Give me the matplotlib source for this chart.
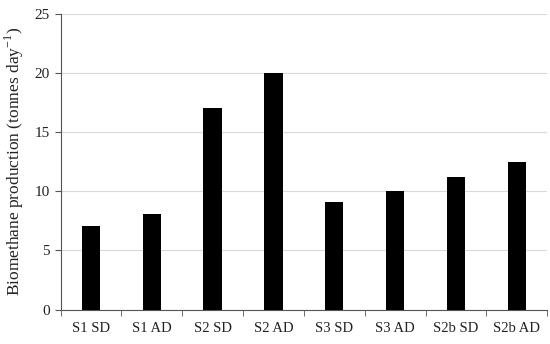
import matplotlib
matplotlib.use("Agg")
import matplotlib.pyplot as plt
import numpy as np

categories = ["S1 SD", "S1 AD", "S2 SD", "S2 AD", "S3 SD", "S3 AD", "S2b SD", "S2b AD"]
production = [7.1, 8.1, 17.0, 20.0, 9.1, 10.0, 11.2, 12.5]

plt.rcParams["font.family"] = ["Liberation Serif", "DejaVu Serif"]
plt.rcParams["mathtext.fontset"] = "custom"
plt.rcParams["mathtext.rm"] = "Liberation Serif"

fig, ax = plt.subplots(figsize=(5.5, 3.44), dpi=100)
fig.subplots_adjust(left=0.11, right=0.995, top=0.96, bottom=0.1)

x = np.arange(len(categories))
ax.bar(x, production, width=0.3, color="black", zorder=3)

ax.set_xlim(-0.5, len(categories) - 0.5)
ax.set_ylim(0, 25)
ax.set_yticks(range(0, 26, 5))
ax.set_xticks(x)
ax.set_xticklabels(categories, fontsize=10.5, color="#222222")
ax.set_xticks(np.arange(-0.5, len(categories)), minor=True)
ax.tick_params(axis="x", which="major", length=0, pad=9)
ax.tick_params(axis="x", which="minor", length=4, direction="out", color="#555555")
ax.tick_params(axis="y", length=4, direction="out", labelsize=11, labelcolor="#222222", color="#555555")
ax.yaxis.grid(True, color="#d9d9d9", lw=0.8, zorder=0)
for s in ["top", "right"]:
    ax.spines[s].set_visible(False)
for s in ["left", "bottom"]:
    ax.spines[s].set_color("#555555")
    ax.spines[s].set_linewidth(0.8)
ax.set_ylabel("Biomethane production (tonnes day$^{\\mathrm{-1}}$)", fontsize=12.5,
              color="#222222", labelpad=6)

fig.savefig("out.png", dpi=100)
